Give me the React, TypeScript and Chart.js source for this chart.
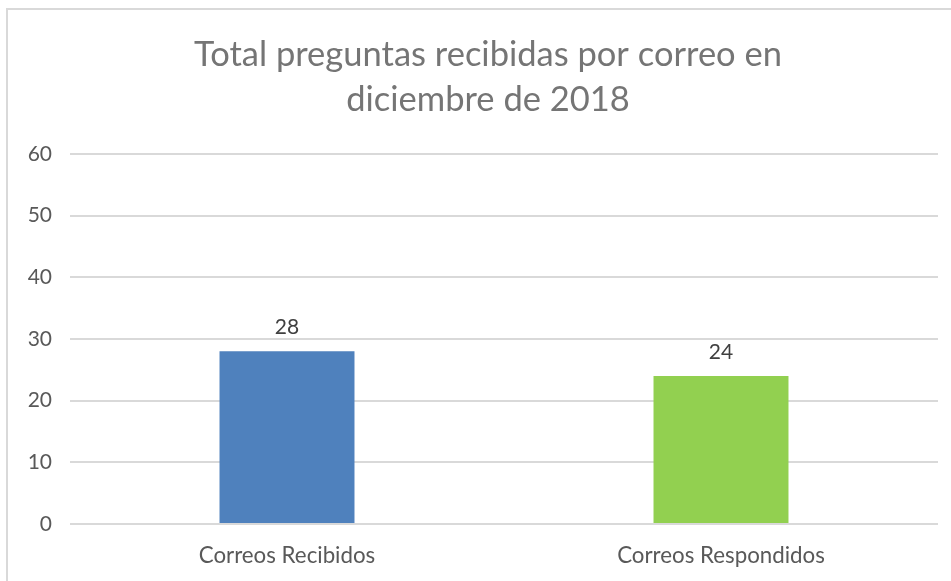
import React, { useEffect, useRef } from "react";
import { Chart, registerables } from "chart.js";

Chart.register(...registerables);

const categories = ["Correos Recibidos", "Correos Respondidos"];
const values = [28, 24];
const barColors = ["#4f81bd", "#92d050"];
const titleLines = ["Total preguntas recibidas por correo en", "diciembre de 2018"];
const yMin = 0;
const yMax = 60;
const yStep = 10;

const FONT = "Lato, 'Open Sans', sans-serif";

const valueLabels = {
  id: "valueLabels",
  afterDatasetsDraw(chart: any) {
    const ctx = chart.ctx;
    const meta = chart.getDatasetMeta(0);
    ctx.save();
    ctx.fillStyle = "#404040";
    ctx.font = `21px ${FONT}`;
    ctx.textAlign = "center";
    ctx.textBaseline = "middle";
    meta.data.forEach((bar: any, i: number) => {
      ctx.fillText(String(values[i]), bar.x, bar.y - 24);
    });
    ctx.restore();
  },
};

const titleDraw = {
  id: "titleDraw",
  afterDraw(chart: any) {
    const ctx = chart.ctx;
    ctx.save();
    ctx.fillStyle = "#757575";
    ctx.font = `34.5px ${FONT}`;
    ctx.textAlign = "center";
    ctx.textBaseline = "middle";
    titleLines.forEach((line, i) => {
      ctx.fillText(line, 480, 45 + i * 45);
    });
    ctx.restore();
  },
};

export default function App() {
  const ref = useRef<HTMLCanvasElement | null>(null);
  useEffect(() => {
    if (!ref.current) return;
    const chart = new Chart(ref.current, {
      type: "bar",
      data: {
        labels: categories,
        datasets: [
          {
            data: values,
            backgroundColor: barColors,
            borderWidth: 0,
            categoryPercentage: 1,
            barPercentage: 0.311,
          },
        ],
      },
      options: {
        animation: false,
        responsive: true,
        maintainAspectRatio: false,
        layout: { padding: { left: 0, right: 13, top: 144, bottom: 0 } },
        plugins: {
          legend: { display: false },
          tooltip: { enabled: false },
          title: { display: false },
        },
        scales: {
          x: {
            grid: { display: false, drawTicks: false },
            border: { display: false },
            ticks: { color: "#595959", font: { family: FONT, size: 22.3 }, padding: 18 },
            afterFit(scale: any) {
              scale.height = 57;
            },
          },
          y: {
            min: yMin,
            max: yMax,
            ticks: { stepSize: yStep, color: "#595959", font: { family: FONT, size: 21 }, padding: 18 },
            grid: { color: "#d9d9d9", lineWidth: 2, drawTicks: false },
            border: { display: false },
            afterFit(scale: any) {
              scale.width = 62;
            },
          },
        },
      },
      plugins: [valueLabels, titleDraw],
    });
    return () => chart.destroy();
  }, []);
  return (
    <div
      style={{
        position: "fixed",
        left: 6,
        top: 8,
        width: 943,
        height: 571,
        borderLeft: "2px solid #d9d9d9",
        borderTop: "2px solid #d9d9d9",
        background: "#fff",
      }}
    >
      <canvas ref={ref} />
    </div>
  );
}
